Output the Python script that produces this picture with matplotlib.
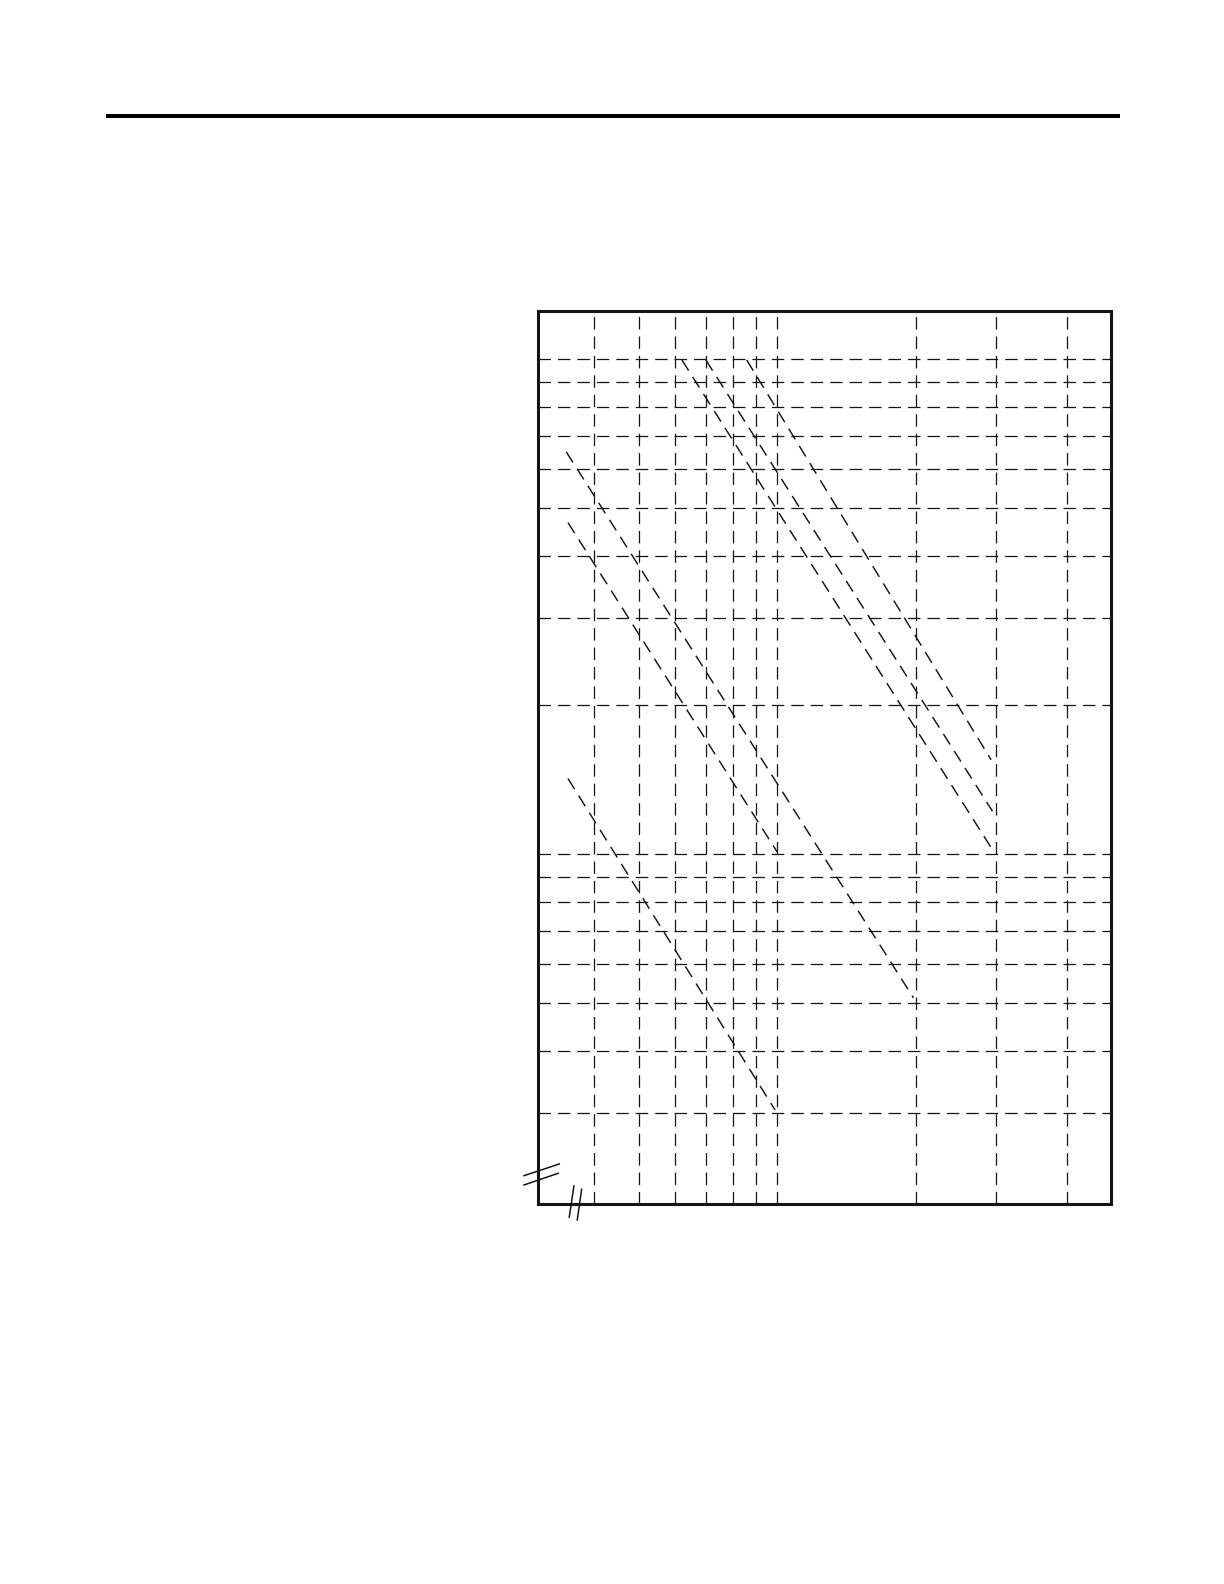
import numpy as np
import matplotlib
matplotlib.use("Agg")
import matplotlib.pyplot as plt
from matplotlib.lines import Line2D
from matplotlib.ticker import NullLocator

plt.rcParams['lines.scale_dashes'] = False

# grid positions (log-log)
x_grid = [0.4, 0.5, 0.6, 0.7, 0.8, 0.9, 1.0, 2.0, 3.0, 4.27]
y_grid = [3, 4, 5, 6, 7, 8, 9, 10, 20, 30, 40, 50, 60, 70, 80, 90, 100]

# curves: start / end points
curve_a_x = [0.348, 1.98]
curve_a_y = [64.9, 5.12]
curve_b_x = [0.351, 1.0]
curve_b_y = [46.7, 10.1]
curve_c_x = [0.351, 0.99]
curve_c_y = [14.2, 3.04]
curve_d_x = [0.621, 2.95]
curve_d_y = [99.5, 10.15]
curve_e_x = [0.700, 2.94]
curve_e_y = [99.5, 12.2]
curve_f_x = [0.859, 2.92]
curve_f_y = [99.5, 15.5]

curves = [(curve_a_x, curve_a_y), (curve_b_x, curve_b_y), (curve_c_x, curve_c_y),
          (curve_d_x, curve_d_y), (curve_e_x, curve_e_y), (curve_f_x, curve_f_y)]

fig = plt.figure(figsize=(12.24, 15.84), dpi=100)
ax = fig.add_axes([0.4395, 0.2399, 0.4681, 0.5638])
ax.set_xscale('log')
ax.set_yscale('log')
ax.set_xlim(0.302, 5.32)
ax.set_ylim(1.963, 125)

ink = '#151515'
grid_style = dict(color=ink, lw=0.9, linestyle=(0, (9.0, 5.0)))
for xv in x_grid:
    ax.axvline(xv, **grid_style)
for yv in y_grid:
    ax.axhline(yv, **grid_style)

for cx, cy in curves:
    ax.plot(cx, cy, color=ink, lw=1.05, linestyle=(0, (9.0, 5.5)))

# no ticks / labels
for axis in (ax.xaxis, ax.yaxis):
    axis.set_major_locator(NullLocator())
    axis.set_minor_locator(NullLocator())
for s in ax.spines.values():
    s.set_linewidth(2.2)
    s.set_color(ink)

# axis break marks
brk = dict(color=ink, lw=1.1, transform=ax.transAxes, clip_on=False)
ax.plot([-0.0244, 0.0372], [0.0317, 0.0448], **brk)
ax.plot([-0.0244, 0.0354], [0.0213, 0.0344], **brk)
ax.plot([0.0628, 0.0546], [0.0202, -0.0148], **brk)
ax.plot([0.0763, 0.0686], [0.0165, -0.0179], **brk)

# header rule
fig.add_artist(Line2D([0.0882, 0.9134], [0.927, 0.927], color='black', lw=2.9,
                      transform=fig.transFigure))

fig.savefig('out.png', dpi=100, facecolor='white')
